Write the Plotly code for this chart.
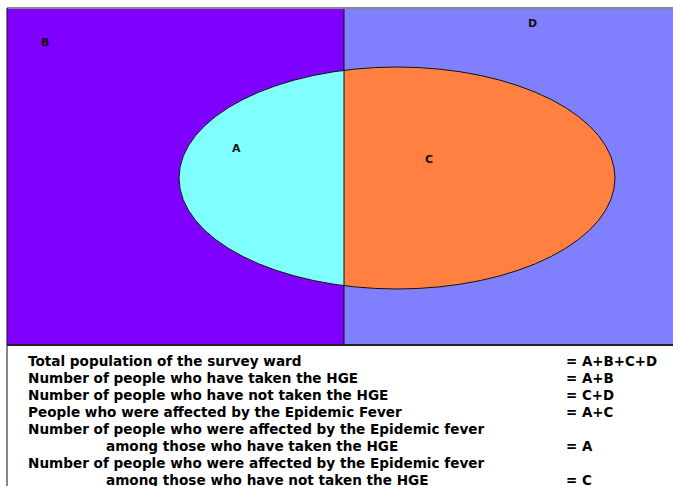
import numpy as np
import plotly.graph_objects as go

W, H = 673, 486

# ---- data ----
region_labels = ["B", "D", "A", "C"]
region_label_x = [45, 532, 236, 429]
region_label_y = [42, 23, 148, 159]

definitions = [
    "Total population of the survey ward",
    "Number of people who have taken the HGE",
    "Number of people who have not taken the HGE",
    "People who were affected by the Epidemic Fever",
    "Number of people who were affected by the Epidemic fever",
    "among those who have taken the HGE",
    "Number of people who were affected by the Epidemic fever",
    "among those who have not taken the HGE",
]
definition_indent = [0, 0, 0, 0, 0, 1, 0, 1]
equations = ["= A+B+C+D", "= A+B", "= C+D", "= A+C", "", "= A", "", "= C"]

# ---- colours ----
col_B = "#7F00FF"
col_D = "#8080FF"
col_A = "#80FFFF"
col_C = "#FF8040"

# ---- geometry ----
box_left, box_top, box_bottom, divider = 7, 8, 345, 344
ex_c, ey_c, ea, eb = 397, 178, 218, 111

fig = go.Figure()

shapes = []
shapes.append(dict(type="rect", x0=box_left, x1=divider, y0=box_top, y1=box_bottom,
                   fillcolor=col_B, line=dict(width=0), layer="below"))
shapes.append(dict(type="rect", x0=divider, x1=W + 5, y0=box_top, y1=box_bottom,
                   fillcolor=col_D, line=dict(width=0), layer="below"))

def path_from(points):
    return "M " + " L ".join(f"{x:.2f},{y:.2f}" for x, y in points) + " Z"

ta = np.arccos((divider - ex_c) / ea)
dy = eb * np.sin(ta)
top_y, bot_y = ey_c - dy, ey_c + dy
tl = np.linspace(ta, 2 * np.pi - ta, 300)
lp = [(divider, top_y)] + [(ex_c + ea * np.cos(a), ey_c - eb * np.sin(a)) for a in tl] + [(divider, bot_y)]
tr = np.linspace(-ta, ta, 300)
rp = [(divider, bot_y)] + [(ex_c + ea * np.cos(a), ey_c - eb * np.sin(a)) for a in tr] + [(divider, top_y)]

shapes.append(dict(type="path", path=path_from(lp), fillcolor=col_A,
                   line=dict(width=0), layer="below"))
shapes.append(dict(type="path", path=path_from(rp), fillcolor=col_C,
                   line=dict(width=0), layer="below"))
shapes.append(dict(type="circle", x0=ex_c - ea, x1=ex_c + ea, y0=ey_c - eb, y1=ey_c + eb,
                   line=dict(color="#111111", width=1), fillcolor="rgba(0,0,0,0)", layer="below"))
shapes.append(dict(type="line", x0=divider, x1=divider, y0=box_top, y1=box_bottom,
                   line=dict(color="#111111", width=1), layer="below"))
shapes.append(dict(type="line", x0=box_left, x1=W + 5, y0=box_top, y1=box_top,
                   line=dict(color="#888888", width=2), layer="below"))
shapes.append(dict(type="line", x0=box_left, x1=box_left, y0=box_top, y1=H + 5,
                   line=dict(color="#111111", width=1), layer="below"))
shapes.append(dict(type="line", x0=box_left, x1=W + 5, y0=box_bottom, y1=box_bottom,
                   line=dict(color="#222222", width=2), layer="below"))

annotations = []
for lab, x, y in zip(region_labels, region_label_x, region_label_y):
    annotations.append(dict(x=x, y=y, text=f"<b>{lab}</b>", showarrow=False,
                            xanchor="center", yanchor="middle",
                            font=dict(family="DejaVu Sans", size=11, color="#111111")))

line_y0, line_dy = 361, 17
for i, (txt, ind, eq) in enumerate(zip(definitions, definition_indent, equations)):
    y = line_y0 + i * line_dy
    annotations.append(dict(x=26 + ind * 78, y=y, text=f"<b>{txt}</b>", showarrow=False,
                            xanchor="left", yanchor="middle",
                            font=dict(family="DejaVu Sans", size=13.6, color="#000000")))
    if eq:
        annotations.append(dict(x=564, y=y, text=f"<b>{eq}</b>", showarrow=False,
                                xanchor="left", yanchor="middle",
                                font=dict(family="DejaVu Sans", size=13.4, color="#000000")))

fig.update_layout(
    width=W, height=H,
    margin=dict(l=0, r=0, t=0, b=0),
    paper_bgcolor="white", plot_bgcolor="white",
    xaxis=dict(range=[0, W], visible=False, fixedrange=True),
    yaxis=dict(range=[H, 0], visible=False, fixedrange=True),
    shapes=shapes, annotations=annotations, showlegend=False,
)
fig.write_html("out.html", config={"displayModeBar": False},
               post_script="document.body.style.margin='0';document.body.style.overflow='hidden';")
